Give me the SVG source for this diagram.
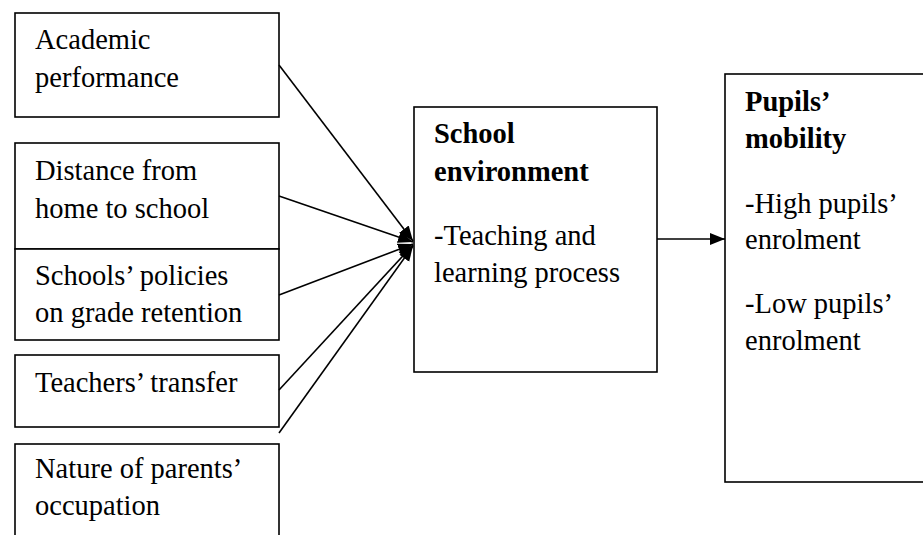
<svg xmlns="http://www.w3.org/2000/svg" width="923" height="535" viewBox="0 0 923 535">
<style>
.box{fill:#fff;stroke:#000;stroke-width:1.6}
.t{font-family:"Liberation Serif","Times New Roman",serif;font-size:28.5px;fill:#000}
.b{font-weight:bold}
.c{stroke:#000;stroke-width:1.6;fill:none}
</style>
<defs>
<marker id="ah" markerUnits="userSpaceOnUse" markerWidth="16" markerHeight="14" refX="15" refY="7" orient="auto">
<path d="M0,1 L15,7 L0,13 Z" fill="#000"/>
</marker>
</defs>
<g id="n1"><rect class="box" x="15" y="13" width="264" height="104"/>
<text class="t" x="35" y="49">Academic</text><text class="t" x="35" y="87">performance</text></g>
<g id="n2"><rect class="box" x="15" y="143" width="264" height="106"/>
<text class="t" x="35" y="180">Distance from</text><text class="t" x="35" y="218">home to school</text></g>
<g id="n3"><rect class="box" x="15" y="249" width="264" height="91"/>
<text class="t" x="35" y="285">Schools’ policies</text><text class="t" x="35" y="322">on grade retention</text></g>
<g id="n4"><rect class="box" x="15" y="355" width="264" height="72"/>
<text class="t" x="35" y="392">Teachers’ transfer</text></g>
<g id="n5"><rect class="box" x="15" y="444" width="264" height="100"/>
<text class="t" x="35" y="478">Nature of parents’</text><text class="t" x="35" y="515">occupation</text></g>
<g id="n6"><rect class="box" x="414" y="107" width="243" height="265"/>
<text class="t b" x="434" y="143">School</text><text class="t b" x="434" y="181">environment</text>
<text class="t" x="434" y="245">-Teaching and</text><text class="t" x="434" y="282">learning process</text></g>
<g id="n7"><rect class="box" x="725" y="74" width="210" height="408"/>
<text class="t b" x="745" y="111">Pupils’</text><text class="t b" x="745" y="148">mobility</text>
<text class="t" x="745" y="213">-High pupils’</text><text class="t" x="745" y="249">enrolment</text>
<text class="t" x="745" y="313">-Low pupils’</text><text class="t" x="745" y="350">enrolment</text></g>
<g id="connectors">
<line class="c" x1="279" y1="65" x2="413" y2="241" marker-end="url(#ah)"/>
<line class="c" x1="279" y1="196" x2="413" y2="242" marker-end="url(#ah)"/>
<line class="c" x1="279" y1="295" x2="413" y2="244" marker-end="url(#ah)"/>
<line class="c" x1="279" y1="390" x2="413" y2="245" marker-end="url(#ah)"/>
<line class="c" x1="279" y1="433" x2="413" y2="246" marker-end="url(#ah)"/>
<line class="c" x1="657" y1="239" x2="725" y2="239" marker-end="url(#ah)"/>
</g>
</svg>
